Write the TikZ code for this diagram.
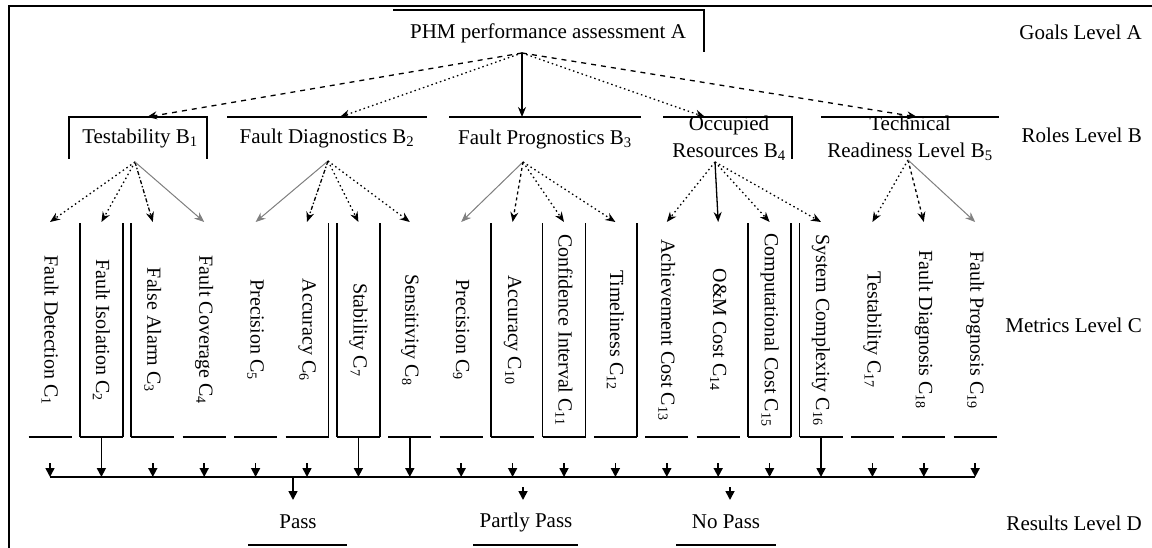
\documentclass[tikz,border=0pt]{standalone}
\usepackage{fontspec}
\setmainfont{Liberation Serif}
\usetikzlibrary{arrows.meta,calc}

\begin{document}
\begin{tikzpicture}[x=1pt,y=-1pt,
  every node/.style={font=\fontsize{21}{27}\selectfont, inner sep=0pt},
  rule/.style={line width=1.7pt},
  frameline/.style={line width=2.2pt},
  conSolid/.style={line width=1.3pt, -{Stealth[length=10pt,width=8pt]}},
  conDash/.style={conSolid, dash pattern=on 5pt off 5pt},
  conShortDash/.style={conSolid, dash pattern=on 3pt off 3pt},
  conDot/.style={conSolid, dash pattern=on 1.5pt off 3pt},
  conDashDot/.style={conSolid, dash pattern=on 4pt off 2pt on 1.5pt off 2pt},
  conGrey/.style={conSolid, draw=black!50, fill=black!50, line width=1pt},
  conDrop/.style={line width=1.7pt, -{Triangle[length=9pt,width=9pt]}},
  metric/.style={rotate=-90, anchor=center, font=\fontsize{20}{24}\selectfont},
  level/.style={anchor=east}
]
\useasboundingbox (0,0) rectangle (1152,548);

% frame
\draw[frameline] (9,548) -- (9,6) -- (1152,6);

% goal
\node (A) at (548,33) {PHM performance assessment A};
\draw[rule] (393,10) -- (704,10) -- (704,52);
\coordinate (Aout) at (522,53);

% roles
\node (B1) at (140,138) {Testability B\textsubscript{1}};
\node (B2) at (327,138) {Fault Diagnostics B\textsubscript{2}};
\node (B3) at (545,139) {Fault Prognostics B\textsubscript{3}};
\node[align=center] (B4) at (729,138) {Occupied\\Resources B\textsubscript{4}};
\node[align=center] (B5) at (910,138) {Technical\\Readiness Level B\textsubscript{5}};

\draw[rule] (69,159) -- (69,117) -- (207,117) -- (207,159);
\draw[rule] (227,117) -- (427,117);
\draw[rule] (449,117) -- (641,117);
\draw[rule] (663,117) -- (792,117) -- (792,159);
\draw[rule] (821,117) -- (999,117);

\coordinate (B1in) at (147,117);
\coordinate (B2in) at (340,117);
\coordinate (B3in) at (522,117);
\coordinate (B4in) at (705,117);
\coordinate (B5in) at (917,117);
\coordinate (B1out) at (135,162);
\coordinate (B2out) at (328,161);
\coordinate (B3out) at (523,162);
\coordinate (B4out) at (715,162);
\coordinate (B5out) at (908,160);

\draw[conDash] (Aout) -- (B1in);
\draw[conDot] (Aout) -- (B2in);
\draw[conSolid] (Aout) -- (B3in);
\draw[conDot] (Aout) -- (B4in);
\draw[conDash] (Aout) -- (B5in);

% metrics
\foreach \i/\x/\t in {
  1/50/{Fault Detection C\textsubscript{1}},
  2/101.4/{Fault Isolation C\textsubscript{2}},
  3/152.8/{False Alarm C\textsubscript{3}},
  4/204.2/{Fault Coverage C\textsubscript{4}},
  5/255.6/{Precision C\textsubscript{5}},
  6/307/{Accuracy C\textsubscript{6}},
  7/358.4/{Stability C\textsubscript{7}},
  8/409.8/{Sensitivity C\textsubscript{8}},
  9/461.2/{Precision C\textsubscript{9}},
  10/512.6/{Accuracy C\textsubscript{10}},
  11/564/{Confidence Interval C\textsubscript{11}},
  12/615.4/{Timeliness C\textsubscript{12}},
  13/666.8/{Achievement Cost C\textsubscript{13}},
  14/718.2/{O\&M Cost C\textsubscript{14}},
  15/769.6/{Computational Cost C\textsubscript{15}},
  16/821/{System Complexity C\textsubscript{16}},
  17/872.4/{Testability C\textsubscript{17}},
  18/923.8/{Fault Diagnosis C\textsubscript{18}},
  19/975.2/{Fault Prognosis C\textsubscript{19}}} {
  \node[metric] (C\i) at (\x,330) {\t};
  \coordinate (T\i) at (\x,222);
  \coordinate (S\i) at (\x,437);
  \coordinate (D\i) at (\x,477);
  \draw[rule] (\x-21.5,437) -- (\x+21.5,437);
}

% side walls of the metric brackets
\foreach \i/\s in {2/-1,2/1,3/-1,6/1,7/-1,7/1,10/-1,11/-1,11/1,12/1,15/-1,15/1,16/-1}
  \draw[rule] ($(S\i)+(\s*21.5,0)$) -- ++(0,-214);

% roles to metrics
\draw[conDot] (B1out) -- (T1);
\draw[conDot] (B1out) -- (T2);
\draw[conDashDot] (B1out) -- (T3);
\draw[conGrey] (B1out) -- (T4);
\draw[conGrey] (B2out) -- (T5);
\draw[conDashDot] (B2out) -- (T6);
\draw[conDot] (B2out) -- (T7);
\draw[conDot] (B2out) -- (T8);
\draw[conGrey] (B3out) -- (T9);
\draw[conShortDash] (B3out) -- (T10);
\draw[conDot] (B3out) -- (T11);
\draw[conDot] (B3out) -- (T12);
\draw[conDot] (B4out) -- (T13);
\draw[conSolid] (B4out) -- (T14);
\draw[conDot] (B4out) -- (T15);
\draw[conDot] (B4out) -- (T16);
\draw[conDot] (B5out) -- (T17);
\draw[conShortDash] (B5out) -- (T18);
\draw[conGrey] (B5out) -- (T19);

% collecting bus
\draw[rule] (D1) -- (D19);
\foreach \i in {2,7,8,16}
  \draw[conDrop] (S\i) -- (D\i);
\foreach \i in {1,3,4,5,6,9,10,11,12,13,14,15,17,18,19}
  \draw[conDrop] ($(D\i)+(0,-14)$) -- (D\i);

% results
\node (R1) at (298,522) {Pass};
\node (R2) at (526,522) {Partly Pass};
\node (R3) at (726,522) {No Pass};
\draw[rule] (248,545) -- (347,545);
\draw[rule] (473,545) -- (578,545);
\draw[rule] (676,545) -- (776,545);
\coordinate (P1) at (293,477);
\coordinate (R1in) at (293,500);
\coordinate (R2top) at (523,487);
\coordinate (R2in) at (523,500);
\coordinate (R3top) at (730,487);
\coordinate (R3in) at (730,500);
\draw[conDrop] (P1) -- (R1in);
\draw[conDrop] (R2top) -- (R2in);
\draw[conDrop] (R3top) -- (R3in);

% level labels
\node[level] (LA) at (1142,32) {Goals Level A};
\node[level] (LB) at (1142,135) {Roles Level B};
\node[level] (LC) at (1142,325) {Metrics Level C};
\node[level] (LD) at (1142,523) {Results Level D};
\end{tikzpicture}
\end{document}
